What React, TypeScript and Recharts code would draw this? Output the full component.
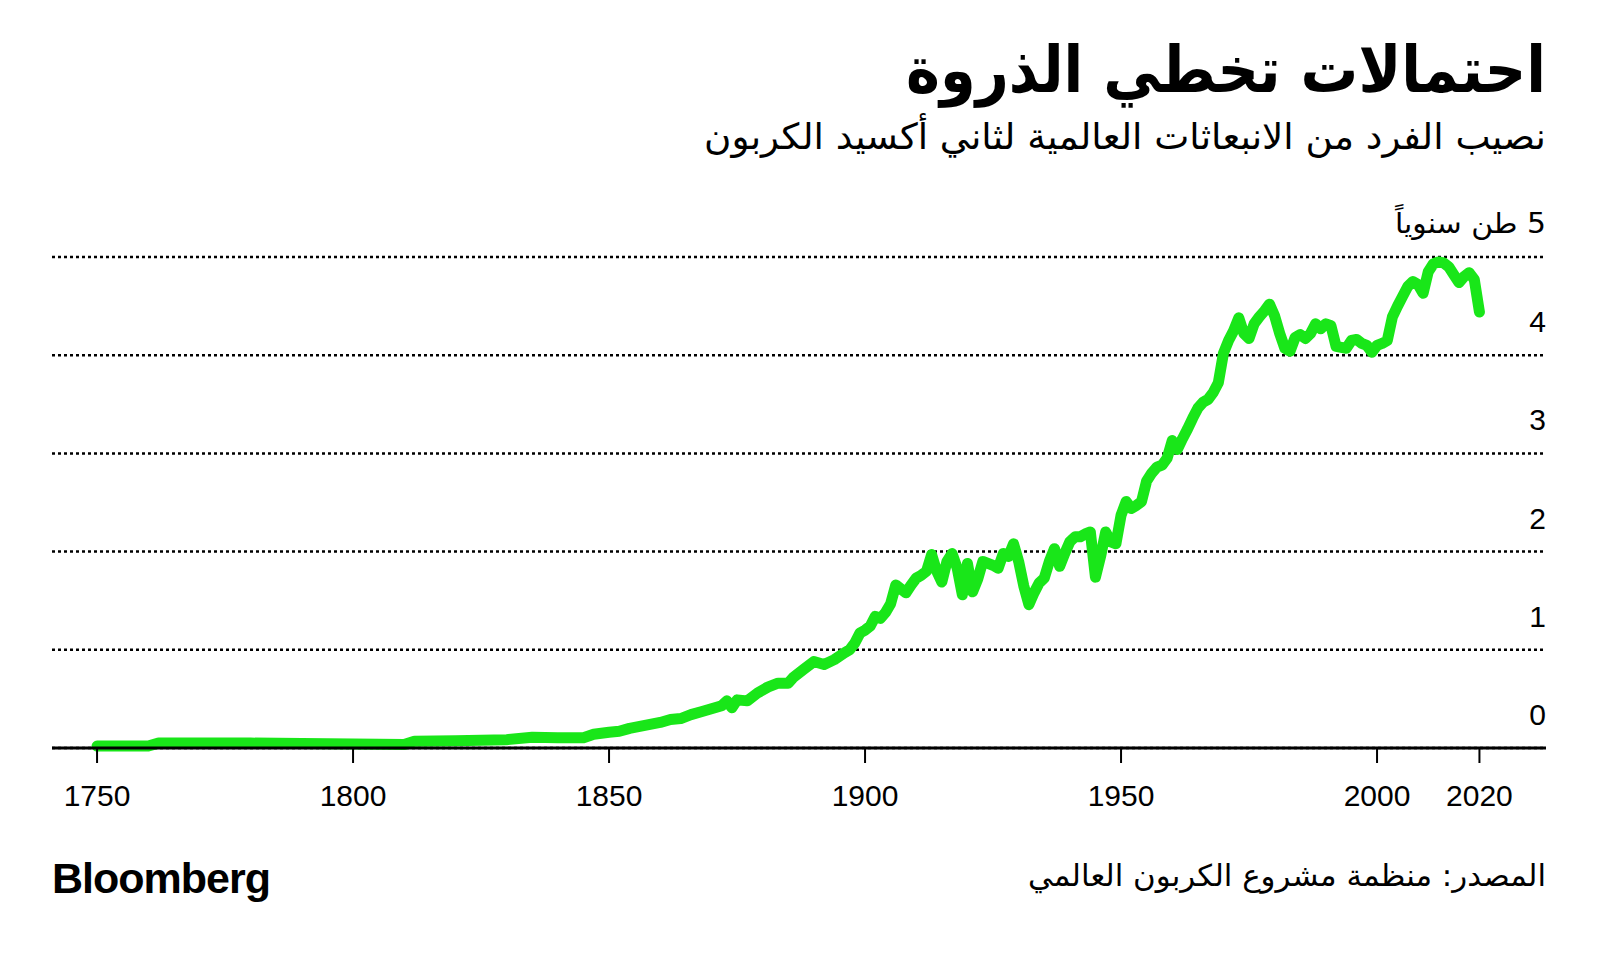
import React from "react";
import { LineChart, Line, XAxis, YAxis, CartesianGrid } from "recharts";

const TITLE = "احتمالات تخطي الذروة";
const SUBTITLE = "نصيب الفرد من الانبعاثات العالمية لثاني أكسيد الكربون";
const UNIT_LABEL = "5 طن سنوياً";
const SOURCE = "المصدر: منظمة مشروع الكربون العالمي";
const BRAND = "Bloomberg";

const X_TICKS = [1750, 1800, 1850, 1900, 1950, 2000, 2020];
const Y_TICKS = [0, 1, 2, 3, 4, 5];

const YEARS = [
  1750, 1755, 1760, 1762, 1770, 1780, 1790, 1800, 1810, 1812, 1820, 1830, 1835, 1840, 1845, 1847,
  1850, 1852, 1854, 1856, 1858, 1860, 1862, 1864, 1866, 1868, 1870, 1872, 1873, 1874, 1875, 1877,
  1879, 1881, 1883, 1885, 1886, 1888, 1890, 1892, 1894, 1896, 1897, 1898, 1899,
  1900, 1901, 1902, 1903, 1904, 1905, 1906, 1907, 1908, 1909, 1910, 1911, 1912, 1913, 1914, 1915,
  1916, 1917, 1918, 1919, 1920, 1921, 1922, 1923, 1924, 1925, 1926, 1927, 1928, 1929, 1930, 1931,
  1932, 1933, 1934, 1935, 1936, 1937, 1938, 1939, 1940, 1941, 1942, 1943, 1944, 1945, 1946, 1947,
  1948, 1949, 1950, 1951, 1952, 1953, 1954, 1955, 1956, 1957, 1958, 1959, 1960, 1961, 1962, 1963,
  1964, 1965, 1966, 1967, 1968, 1969, 1970, 1971, 1972, 1973, 1974, 1975, 1976, 1977, 1978, 1979,
  1980, 1981, 1982, 1983, 1984, 1985, 1986, 1987, 1988, 1989, 1990, 1991, 1992, 1993, 1994, 1995,
  1996, 1997, 1998, 1999, 2000, 2001, 2002, 2003, 2004, 2005, 2006, 2007, 2008, 2009, 2010, 2011,
  2012, 2013, 2014, 2015, 2016, 2017, 2018, 2019, 2020,
];

const PER_CAPITA = [
  0.02, 0.02, 0.02, 0.05, 0.05, 0.05, 0.045, 0.04, 0.035, 0.07, 0.075, 0.085, 0.11, 0.105, 0.105, 0.14,
  0.16, 0.17, 0.2, 0.22, 0.24, 0.26, 0.29, 0.3, 0.34, 0.37, 0.4, 0.43, 0.48, 0.41, 0.49, 0.48,
  0.56, 0.62, 0.66, 0.66, 0.72, 0.8, 0.88, 0.85, 0.9, 0.97, 1.0, 1.07, 1.17,
  1.2, 1.24, 1.34, 1.32, 1.38, 1.47, 1.66, 1.62, 1.58, 1.66, 1.73, 1.76, 1.8, 1.97, 1.8, 1.69,
  1.9, 1.98, 1.83, 1.56, 1.88, 1.59, 1.72, 1.9, 1.88, 1.86, 1.83, 1.98, 1.95, 2.08, 1.9, 1.65,
  1.46, 1.58, 1.68, 1.73, 1.9, 2.03, 1.85, 1.98, 2.1, 2.15, 2.15, 2.18, 2.2, 1.74, 1.95, 2.2,
  2.1, 2.08, 2.37, 2.51, 2.44, 2.47, 2.51, 2.72, 2.8, 2.86, 2.88, 2.95, 3.13, 3.04, 3.15, 3.25,
  3.36, 3.46, 3.52, 3.55, 3.62, 3.72, 4.02, 4.15, 4.25, 4.38, 4.22, 4.17, 4.32, 4.39, 4.45, 4.52,
  4.4, 4.22, 4.07, 4.04, 4.18, 4.21, 4.17, 4.22, 4.32, 4.27, 4.32, 4.3, 4.09, 4.08, 4.07, 4.15,
  4.16, 4.12, 4.1, 4.03, 4.1, 4.12, 4.15, 4.39, 4.5, 4.6, 4.7, 4.75, 4.72, 4.63, 4.85, 4.93,
  4.95, 4.94, 4.9, 4.82, 4.74, 4.8, 4.84, 4.77, 4.44,
];

const data = YEARS.map((year, i) => ({ year, value: PER_CAPITA[i] }));

const LATIN = "'Liberation Sans', Arial, Helvetica, sans-serif";
const ARABIC = "'DejaVu Sans', 'Noto Sans', sans-serif";

const XTick = (props: any) => {
  const { x, y, payload } = props;
  return (
    <text x={x} y={y + 43} textAnchor="middle" fontFamily={LATIN} fontSize={30} fill="#000">
      {payload.value}
    </text>
  );
};

const YTick = (props: any) => {
  const { x, y, payload } = props;
  if (payload.value === 5) {
    return (
      <text
        x={x}
        y={y - 24}
        direction="rtl"
        textAnchor="start"
        fontFamily={ARABIC}
        fontSize={28}
        fill="#000"
        textLength={151}
        lengthAdjust="spacingAndGlyphs"
      >
        {UNIT_LABEL}
      </text>
    );
  }
  return (
    <text x={x} y={y - 23} textAnchor="end" fontFamily={LATIN} fontSize={30} fill="#000">
      {payload.value}
    </text>
  );
};

export default function App() {
  return (
    <div style={{ position: "absolute", left: 0, top: 0, width: 1600, height: 958, background: "#fff" }}>
      <LineChart
        width={1600}
        height={958}
        data={data}
        margin={{ top: 257, right: 14, bottom: 150, left: 52 }}
      >
        <CartesianGrid vertical={false} stroke="#000" strokeWidth={2.5} strokeDasharray="3 3" />
        <XAxis
          dataKey="year"
          type="number"
          domain={[1741.2, 2033]}
          ticks={X_TICKS}
          interval={0}
          height={60}
          axisLine={{ stroke: "#000", strokeWidth: 3 }}
          tickLine={{ stroke: "#000", strokeWidth: 2 }}
          tickSize={15}
          tickMargin={0}
          tick={<XTick />}
        />
        <YAxis
          orientation="right"
          type="number"
          domain={[0, 5]}
          ticks={Y_TICKS}
          interval={0}
          width={40}
          axisLine={false}
          tickLine={false}
          tickSize={0}
          tickMargin={0}
          tick={<YTick />}
        />
        <Line
          type="linear"
          dataKey="value"
          stroke="#19e619"
          strokeWidth={11}
          strokeLinecap="round"
          strokeLinejoin="round"
          dot={false}
          isAnimationActive={false}
        />
      </LineChart>
      <svg
        width={1600}
        height={958}
        style={{ position: "absolute", left: 0, top: 0, pointerEvents: "none" }}
      >
        <text
          x={1546}
          y={92}
          textAnchor="end"
          fontFamily={ARABIC}
          fontWeight="bold"
          fontSize={64}
          fill="#000"
          textLength={640}
          lengthAdjust="spacingAndGlyphs"
        >
          {TITLE}
        </text>
        <text
          x={1546}
          y={149}
          textAnchor="end"
          fontFamily={ARABIC}
          fontSize={36}
          fill="#000"
          textLength={842}
          lengthAdjust="spacingAndGlyphs"
        >
          {SUBTITLE}
        </text>
        <text
          x={52}
          y={893}
          fontFamily={LATIN}
          fontWeight="bold"
          fontSize={43}
          letterSpacing={-1}
          fill="#000"
        >
          {BRAND}
        </text>
        <text
          x={1546}
          y={886}
          textAnchor="end"
          fontFamily={ARABIC}
          fontSize={30}
          fill="#000"
          textLength={518}
          lengthAdjust="spacingAndGlyphs"
        >
          {SOURCE}
        </text>
      </svg>
    </div>
  );
}
